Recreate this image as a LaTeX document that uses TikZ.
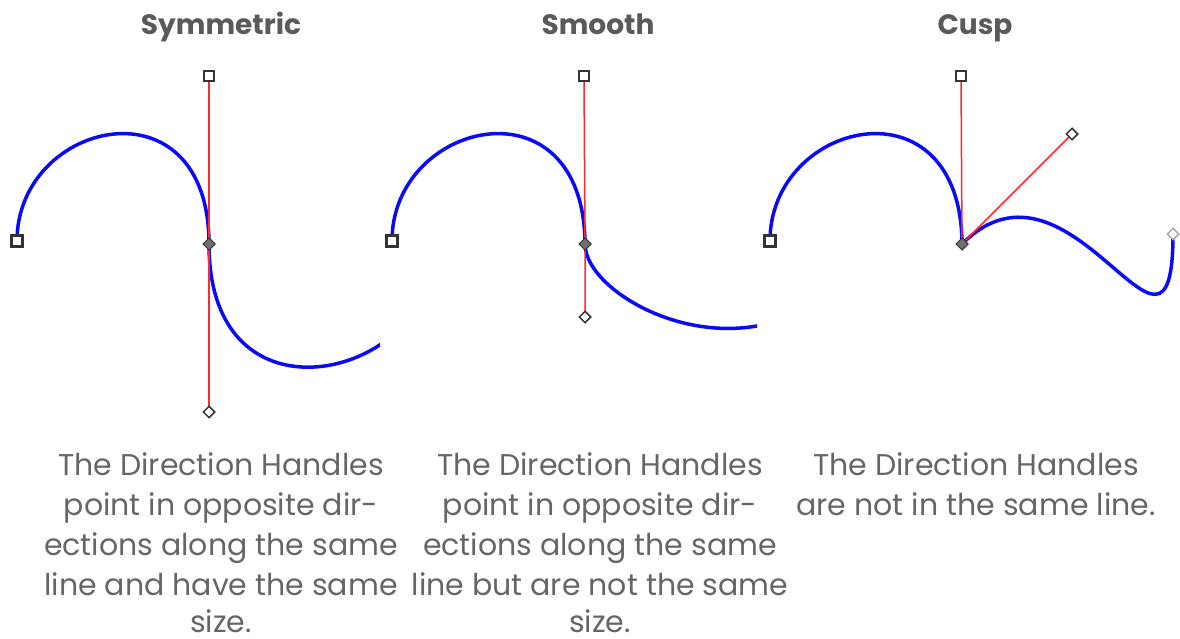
\documentclass[tikz,border=0pt]{standalone}
\usepackage{fontspec}
\setmainfont{Poppins}
\usetikzlibrary{shapes.geometric}
\pgfdeclarelayer{bg}
\pgfsetlayers{bg,main}
\definecolor{txtgray}{HTML}{666666}
\definecolor{ttlgray}{HTML}{5A5A5A}
\definecolor{curveblue}{HTML}{0A0AF5}
\definecolor{handlered}{HTML}{FF2A2A}
\definecolor{mkdark}{HTML}{333333}
\definecolor{mkfill}{HTML}{707070}
\definecolor{mklight}{HTML}{A8A8A8}
\tikzset{
  endsq/.style={rectangle, draw=mkdark, line width=3pt, fill=white, minimum size=11.5pt, inner sep=0pt},
  hsq/.style={rectangle, draw=mkdark, line width=2.3pt, fill=white, minimum size=9.5pt, inner sep=0pt},
  anch/.style={diamond, draw=mkdark, line width=1pt, fill=mkfill, minimum size=12.5pt, inner sep=0pt},
  hdia/.style={diamond, draw=mkdark, line width=1.5pt, fill=white, minimum size=12pt, inner sep=0pt},
  enddia/.style={diamond, draw=mklight, line width=1.5pt, fill=white, minimum size=12pt, inner sep=0pt},
  curve/.style={draw=curveblue, line width=3.5pt},
  handle/.style={draw=handlered, line width=1.5pt},
  ttl/.style={font=\bfseries\fontsize{28}{34}\selectfont, text=ttlgray, anchor=base, inner sep=0pt},
  body/.style={font=\fontsize{30}{40}\selectfont, text=txtgray, anchor=base, inner sep=0pt, text depth=0pt},
}
\begin{document}
\begin{tikzpicture}[x=1pt, y=-1pt]
\useasboundingbox (0,0) rectangle (1180,639);

% titles
\node[ttl] (t1) at (221,35) {Symmetric};
\node[ttl] (t2) at (598,35) {Smooth};
\node[ttl] (t3) at (975,35) {Cusp};

% ---------- panel 1 ----------
\node[endsq] (e1) at (17,241) {};
\node[anch] (a1) at (209,244) {};
\node[hsq] (h1t) at (209,76) {};
\node[hdia] (h1b) at (209,412) {};
\coordinate (c1a) at (17,120);
\coordinate (c1b) at (380,385);
\coordinate (f1) at (420,300);

% ---------- panel 2 ----------
\node[endsq] (e2) at (392,241) {};
\node[anch] (a2) at (585,244) {};
\node[hsq] (h2t) at (584,76) {};
\node[hdia] (h2b) at (585,317) {};
\coordinate (c2a) at (392,120);
\coordinate (c2b) at (585,295);
\coordinate (c2c) at (720,370);
\coordinate (f2) at (820,300);

% ---------- panel 3 ----------
\node[endsq] (e3) at (770,241) {};
\node[anch] (a3) at (962,244) {};
\node[hsq] (h3t) at (961,76) {};
\node[hdia] (h3d) at (1072,134) {};
\node[enddia] (f3) at (1173,234) {};
\coordinate (c3a) at (770,120);
\coordinate (c3b) at (1173,410);

\begin{pgfonlayer}{bg}
  \fill[white] (0,0) rectangle (1180,639);
  \begin{scope}
    \clip (0,0) rectangle (380,639);
    \draw[curve] (e1.center) .. controls (c1a) and (h1t.center) .. (a1.center)
                 .. controls (h1b.center) and (c1b) .. (f1);
  \end{scope}
  \begin{scope}
    \clip (380,0) rectangle (757,639);
    \draw[curve] (e2.center) .. controls (c2a) and (h2t.center) .. (a2.center)
                 .. controls (c2b) and (c2c) .. (f2);
  \end{scope}
  \draw[curve] (e3.center) .. controls (c3a) and (h3t.center) .. (a3.center)
               .. controls (h3d.center) and (c3b) .. (f3.center);
  \draw[handle] (h1t.center) -- (a1.center) -- (h1b.center);
  \draw[handle] (h2t.center) -- (a2.center) -- (h2b.center);
  \draw[handle] (h3t.center) -- (a3.center) -- (h3d.center);
\end{pgfonlayer}

% body texts
\node[body] (b11) at (221,475) {The Direction Handles};
\node[body] (b12) at (221,515) {point in opposite dir-};
\node[body] (b13) at (221,555) {ections along the same};
\node[body] (b14) at (221,595) {line and have the same};
\node[body] (b15) at (221,632) {size.};

\node[body] (b21) at (600,475) {The Direction Handles};
\node[body] (b22) at (600,515) {point in opposite dir-};
\node[body] (b23) at (600,555) {ections along the same};
\node[body] (b24) at (600,595) {line but are not the same};
\node[body] (b25) at (600,632) {size.};

\node[body] (b31) at (976,475) {The Direction Handles};
\node[body] (b32) at (976,515) {are not in the same line.};
\end{tikzpicture}
\end{document}
